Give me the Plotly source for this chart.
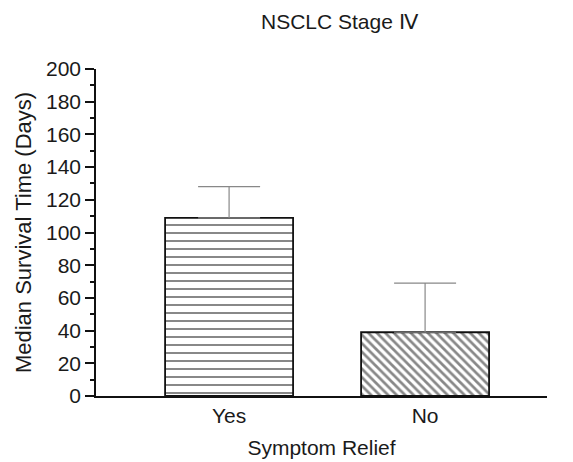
import plotly.graph_objects as go

categories = ["Yes", "No"]
median_days = [109, 39]
err_upper = [19, 30]
patterns = ["-", "\\"]

fig = go.Figure()
fig.add_trace(go.Bar(
    x=categories,
    y=median_days,
    width=0.653,
    marker=dict(
        color="white",
        line=dict(color="#111", width=1.8),
        pattern=dict(shape=patterns, fgcolor="#111", bgcolor="white",
                     size=[8, 6], solidity=[0.25, 0.45], fillmode="overlay"),
    ),
    error_y=dict(type="data", symmetric=False, array=err_upper,
                 arrayminus=[0, 0], color="#888", thickness=1.2, width=31),
))

font_family = "Liberation Sans, Arial, sans-serif"
pw = 573 - 96 - 26
ph = 462 - 69 - 66
fig.update_layout(
    width=573, height=462,
    margin=dict(l=96, r=26, t=69, b=66),
    plot_bgcolor="white", paper_bgcolor="white",
    showlegend=False,
    font=dict(family=font_family, color="#1a1a1a", size=21),
    annotations=[
        dict(text="NSCLC Stage Ⅳ", x=(340 - 96) / pw, y=1 + (69 - 22) / ph,
             xref="paper", yref="paper", yanchor="middle",
             showarrow=False, font=dict(size=21)),
    ],
)

fig.update_xaxes(
    type="category",
    range=[-0.679, 1.622],
    automargin=False,
    showline=True, linecolor="#111", linewidth=1.5,
    ticks="", tickfont=dict(size=21),
    title=dict(text="Symptom Relief", font=dict(size=21), standoff=14),
    showgrid=False, zeroline=False,
)
fig.update_yaxes(
    range=[0, 200],
    automargin=False,
    tickvals=list(range(0, 201, 20)),
    showline=True, linecolor="#111", linewidth=1.5,
    ticks="outside", ticklen=9, tickwidth=1.5, tickcolor="#111",
    minor=dict(dtick=10, ticks="outside", ticklen=4, tickwidth=1.5, tickcolor="#111"),
    tickfont=dict(size=21),
    title=dict(text="Median Survival Time (Days)", font=dict(size=22), standoff=8),
    showgrid=False, zeroline=False,
)

fig.write_html("out.html")
